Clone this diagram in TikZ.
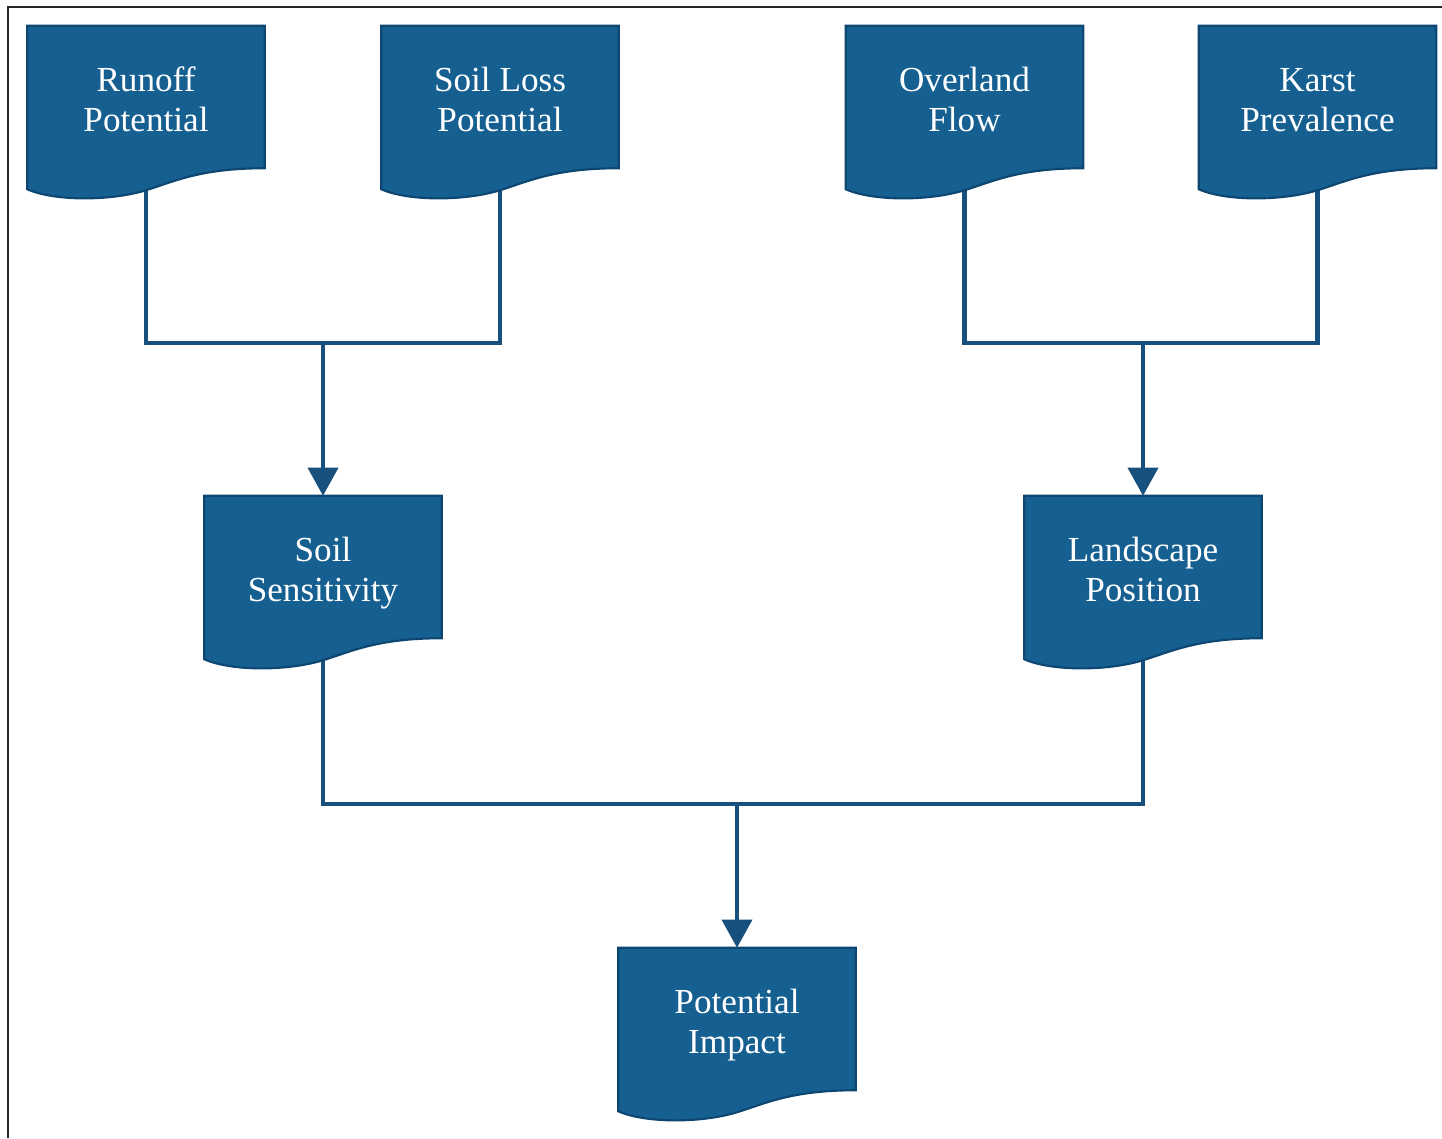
\documentclass[tikz,border=0pt]{standalone}
\usepackage{fontspec}
\setmainfont{Liberation Serif}
\usepackage{xcolor}
\usetikzlibrary{arrows.meta,calc,backgrounds}
\definecolor{docblue}{HTML}{155F91}
\definecolor{docedge}{HTML}{0D4670}
\definecolor{linkblue}{HTML}{17507D}
\newcommand{\twolines}[2]{\rule{0pt}{11.4pt}#1\\#2\strut}
\tikzset{
	docbox/.style={
			rectangle, minimum width=2.36cm, minimum height=1.41cm, inner sep=0pt,
			align=center, text=white, font=\fontsize{10}{11.4}\selectfont
		},
	docfill/.style={fill=docblue, draw=docedge, line width=0.6pt},
	link/.style={draw=linkblue, line width=1.2pt},
	linkarrow/.style={link, -{Triangle[width=8.5pt,length=8pt]}},
	frame/.style={draw=black!85, line width=0.7pt}
}

\begin{document}
\begin{tikzpicture}[x=0.01cm, y=-0.01cm]
			\useasboundingbox (0,0) rectangle (1442,1138);
			% Outer frame
			\draw[frame] (8,1138) -- (8,7) -- (1442,7);

			% Inputs
			\node[docbox] (runoff)    at (146,97)    {\twolines{Runoff}{Potential}};
			\node[docbox] (soilloss)  at (500,97)    {\twolines{Soil Loss}{Potential}};
			\node[docbox] (overland)  at (964.5,97)  {\twolines{Overland}{Flow}};
			\node[docbox] (karst)     at (1317.5,97) {\twolines{Karst}{Prevalence}};

			% Intermediate
			\node[docbox] (soilsens)  at (323,567)  {\twolines{Soil}{Sensitivity}};
			\node[docbox] (landscape) at (1143,567) {\twolines{Landscape}{Position}};

			% Result
			\node[docbox] (impact)    at (737,1019) {\twolines{Potential}{Impact}};

			% Joints
			\coordinate (joinL) at (323,343);
			\coordinate (joinR) at (1143,343);
			\coordinate (joinB) at (737,804);

			\begin{pgfonlayer}{background}
				% Connectors
				\draw[link] (runoff.south) -- (runoff.south |- joinL) -- (soilloss.south |- joinL) -- (soilloss.south);
				\draw[link] (overland.south) -- (overland.south |- joinR) -- (karst.south |- joinR) -- (karst.south);
				\draw[link] (soilsens.south) -- (soilsens.south |- joinB) -- (landscape.south |- joinB) -- (landscape.south);
				\draw[linkarrow] (joinL) -- (soilsens.north);
				\draw[linkarrow] (joinR) -- (landscape.north);
				\draw[linkarrow] (joinB) -- (impact.north);

				% Document shapes
				\foreach \n in {runoff,soilloss,overland,karst,soilsens,landscape,impact}
					\filldraw[docfill] (\n.north west) -- (\n.north east) -- (\n.south east)
						.. controls +(-64,0) and +(29,-9) .. ($(\n.south)+(0,22)$)
						.. controls +(-36,11) and +(27,12) .. ($(\n.south west)+(0,21)$) -- cycle;
			\end{pgfonlayer}
		\end{tikzpicture}
\end{document}
